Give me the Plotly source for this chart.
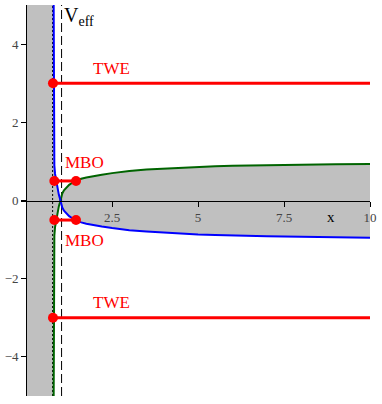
import plotly.graph_objects as go

# 有効ポテンシャルの2つの分枝
curve_x = [0.800, 0.801, 0.803, 0.806, 0.81, 0.82, 0.84, 0.87, 0.915, 0.95, 0.98, 1.0,
           1.02, 1.05, 1.1, 1.17, 1.25, 1.35, 1.46, 1.6, 1.75, 1.92, 2.2, 2.5, 2.8, 3.0,
           3.5, 4.0, 4.5, 5.0, 5.5, 6.0, 7.0, 8.0, 9.0, 10.0]
green_y = [-5.0, -3.5, -2.5, -1.8, -1.3, -0.9, -0.68, -0.5, -0.27, -0.15, -0.06, 0.0,
           0.09, 0.18, 0.26, 0.34, 0.4, 0.46, 0.51, 0.555, 0.59, 0.62, 0.66, 0.7, 0.735, 0.755,
           0.79, 0.815, 0.84, 0.86, 0.875, 0.888, 0.905, 0.917, 0.926, 0.932]
blue_y = [5.0, 3.5, 2.5, 1.8, 1.3, 0.9, 0.68, 0.5, 0.27, 0.15, 0.06, 0.0,
          -0.09, -0.18, -0.26, -0.34, -0.4, -0.46, -0.51, -0.56, -0.595, -0.625, -0.665, -0.705, -0.74, -0.76,
          -0.795, -0.825, -0.85, -0.87, -0.885, -0.9, -0.917, -0.93, -0.94, -0.95]

# 軌道のエネルギー準位
twe_levels = [3.0, -3.0]
twe_x = [0.78, 10.0]
mbo_levels = [0.5, -0.5]
mbo_x = [0.82, 1.45]

horizon_x = 1.03
inner_x = 0.77
y_lo, y_hi = -5.0, 5.0

x_ticks = [2.5, 5, 7.5, 10]
x_tick_labels = ["2.5", "5", "7.5", "10"]
y_ticks = [-4, -2, 0, 2, 4]

red = "#FF0000"
serif = "Liberation Serif"

fig = go.Figure()

# 禁止領域（灰色）
fill_x = [0.0] + curve_x + curve_x[::-1] + [0.0]
fill_y = [y_lo] + green_y + blue_y[::-1] + [y_hi]
fig.add_trace(go.Scatter(x=fill_x, y=fill_y, mode="lines", fill="toself",
                         fillcolor="#C0C0C0", line=dict(width=0), hoverinfo="skip"))

# 縦の補助線
fig.add_trace(go.Scatter(x=[inner_x, inner_x], y=[y_lo, y_hi], mode="lines",
                         line=dict(color="black", width=1, dash="2px,2px")))
fig.add_trace(go.Scatter(x=[horizon_x, horizon_x], y=[y_lo, y_hi], mode="lines",
                         line=dict(color="black", width=1, dash="9px,4px")))

# ポテンシャル曲線
fig.add_trace(go.Scatter(x=curve_x, y=green_y, mode="lines",
                         line=dict(color="#006400", width=2)))
fig.add_trace(go.Scatter(x=curve_x, y=blue_y, mode="lines",
                         line=dict(color="#0000FF", width=2)))

# TWE と MBO
for lv in twe_levels:
    fig.add_trace(go.Scatter(x=twe_x, y=[lv, lv], mode="lines",
                             line=dict(color=red, width=3)))
    fig.add_trace(go.Scatter(x=[twe_x[0]], y=[lv], mode="markers",
                             marker=dict(color=red, size=10)))
for lv in mbo_levels:
    fig.add_trace(go.Scatter(x=mbo_x, y=[lv, lv], mode="lines+markers",
                             line=dict(color=red, width=3),
                             marker=dict(color=red, size=10)))

labels = [
    ("TWE", 2.01, 3.37), ("TWE", 2.01, -2.61),
    ("MBO", 1.18, 0.98), ("MBO", 1.18, -1.02),
]
for txt, lx, ly in labels:
    fig.add_annotation(x=lx, y=ly, text=txt, showarrow=False, xanchor="left",
                       yanchor="middle", xshift=-4,
                       font=dict(family=serif, size=17, color=red))

fig.add_annotation(x=1.05, y=1.0, yref="paper", text="V<sub>eff</sub>", showarrow=False,
                   xanchor="left", yanchor="top", yshift=3,
                   font=dict(family=serif, size=20, color="black"))
fig.add_annotation(x=8.875, y=-0.41, text="x", showarrow=False,
                   font=dict(family=serif, size=15, color="black"))

fig.update_layout(
    width=382, height=404,
    margin=dict(l=18, r=12, t=5, b=8),
    plot_bgcolor="white", paper_bgcolor="white",
    showlegend=False,
    xaxis=dict(range=[-0.15, 10.0], anchor="free", position=0.5,
               showline=True, linecolor="black", linewidth=1,
               showgrid=False, zeroline=False,
               tickvals=x_ticks, ticktext=x_tick_labels,
               ticks="outside", ticklen=5, tickcolor="black",
               tickfont=dict(family=serif, size=13, color="#444")),
    yaxis=dict(range=[y_lo, y_hi], anchor="free", position=0.15 / 10.15,
               showline=True, linecolor="black", linewidth=1,
               showgrid=False, zeroline=False,
               tickvals=y_ticks,
               ticks="outside", ticklen=5, tickcolor="black",
               tickfont=dict(family=serif, size=13, color="#444")),
)

# ページ既定の余白をなくす
fig.write_html("out.html", config={"displayModeBar": False},
               post_script="document.body.style.margin='0';document.body.style.overflow='hidden';")
